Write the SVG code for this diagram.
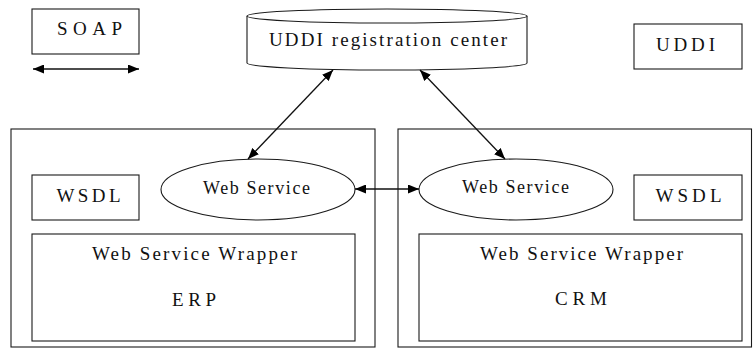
<svg xmlns="http://www.w3.org/2000/svg" width="753" height="356" viewBox="0 0 753 356">
  <style>
    .box { fill: #fff; stroke: #1a1a1a; stroke-width: 1.1; }
    .lbl { font-family: "Times New Roman", "Liberation Serif", "DejaVu Serif", serif; font-size: 19px; fill: #111; stroke: none; }
    .sm { font-size: 18px; }
    .link { stroke: #111; stroke-width: 1.3; fill: none; marker-start: url(#head); marker-end: url(#head); }
  </style>
  <defs>
    <marker id="head" markerUnits="userSpaceOnUse" markerWidth="12" markerHeight="9" refX="11" refY="4.5" orient="auto-start-reverse">
      <path d="M0,0 L11,4.5 L0,9 z" fill="#000"/>
    </marker>
  </defs>
  <rect width="753" height="356" fill="#fff"/>

  <!-- legend: SOAP -->
  <g id="soap">
    <rect class="box" x="32" y="9" width="107" height="45"/>
    <text class="lbl" x="57" y="35" textLength="65" lengthAdjust="spacing"><tspan font-family="Liberation Serif">SOAP</tspan></text>
  </g>

  <!-- legend: UDDI -->
  <g id="uddi">
    <rect class="box" x="634" y="24" width="108" height="45"/>
    <text class="lbl" x="656" y="51" textLength="59" lengthAdjust="spacing"><tspan font-family="Liberation Serif">UDDI</tspan></text>
  </g>

  <!-- registry -->
  <g id="registry">
    <path class="box" d="M247,16 L247,63 A140,7 0 0 0 527,63 L527,16"/>
    <ellipse class="box" cx="387" cy="16" rx="140" ry="7"/>
    <text class="lbl" x="269" y="46" textLength="238" lengthAdjust="spacing"><tspan font-family="Liberation Serif">UDDI registration center</tspan></text>
  </g>

  <!-- ERP system -->
  <g id="erp">
    <rect class="box" x="11" y="129" width="364" height="218"/>
    <rect class="box" x="32" y="175" width="107" height="45"/>
    <text class="lbl" x="56.5" y="202" textLength="64" lengthAdjust="spacing"><tspan font-family="Liberation Serif">WSDL</tspan></text>
    <rect class="box" x="32" y="234" width="323" height="107"/>
    <text class="lbl" x="92" y="260" textLength="205" lengthAdjust="spacing"><tspan font-family="Liberation Serif">Web Service Wrapper</tspan></text>
    <text class="lbl" x="172" y="306" textLength="44" lengthAdjust="spacing"><tspan font-family="Liberation Serif">ERP</tspan></text>
  </g>
  <g id="erp-ws">
    <ellipse class="box" cx="258" cy="189.5" rx="97" ry="30.5"/>
    <text class="lbl sm" x="203" y="194" textLength="107" lengthAdjust="spacing"><tspan font-family="Liberation Serif">Web Service</tspan></text>
  </g>

  <!-- CRM system -->
  <g id="crm">
    <rect class="box" x="398" y="129" width="353.5" height="218"/>
    <rect class="box" x="634" y="175" width="108" height="45"/>
    <text class="lbl" x="655.5" y="202" textLength="66" lengthAdjust="spacing"><tspan font-family="Liberation Serif">WSDL</tspan></text>
    <rect class="box" x="419" y="234" width="323" height="107"/>
    <text class="lbl" x="480" y="260" textLength="203" lengthAdjust="spacing"><tspan font-family="Liberation Serif">Web Service Wrapper</tspan></text>
    <text class="lbl" x="555" y="305" textLength="52" lengthAdjust="spacing"><tspan font-family="Liberation Serif">CRM</tspan></text>
  </g>
  <g id="crm-ws">
    <ellipse class="box" cx="516" cy="189.5" rx="97" ry="30.5"/>
    <text class="lbl sm" x="462" y="193" textLength="107" lengthAdjust="spacing"><tspan font-family="Liberation Serif">Web Service</tspan></text>
  </g>

  <!-- connectors -->
  <g id="connectors">
    <line class="link" x1="33" y1="69" x2="139" y2="69"/>
    <line class="link" x1="333" y1="70" x2="248" y2="159"/>
    <line class="link" x1="420" y1="70" x2="505" y2="159"/>
    <line class="link" x1="355" y1="189" x2="419" y2="189"/>
  </g>
</svg>
